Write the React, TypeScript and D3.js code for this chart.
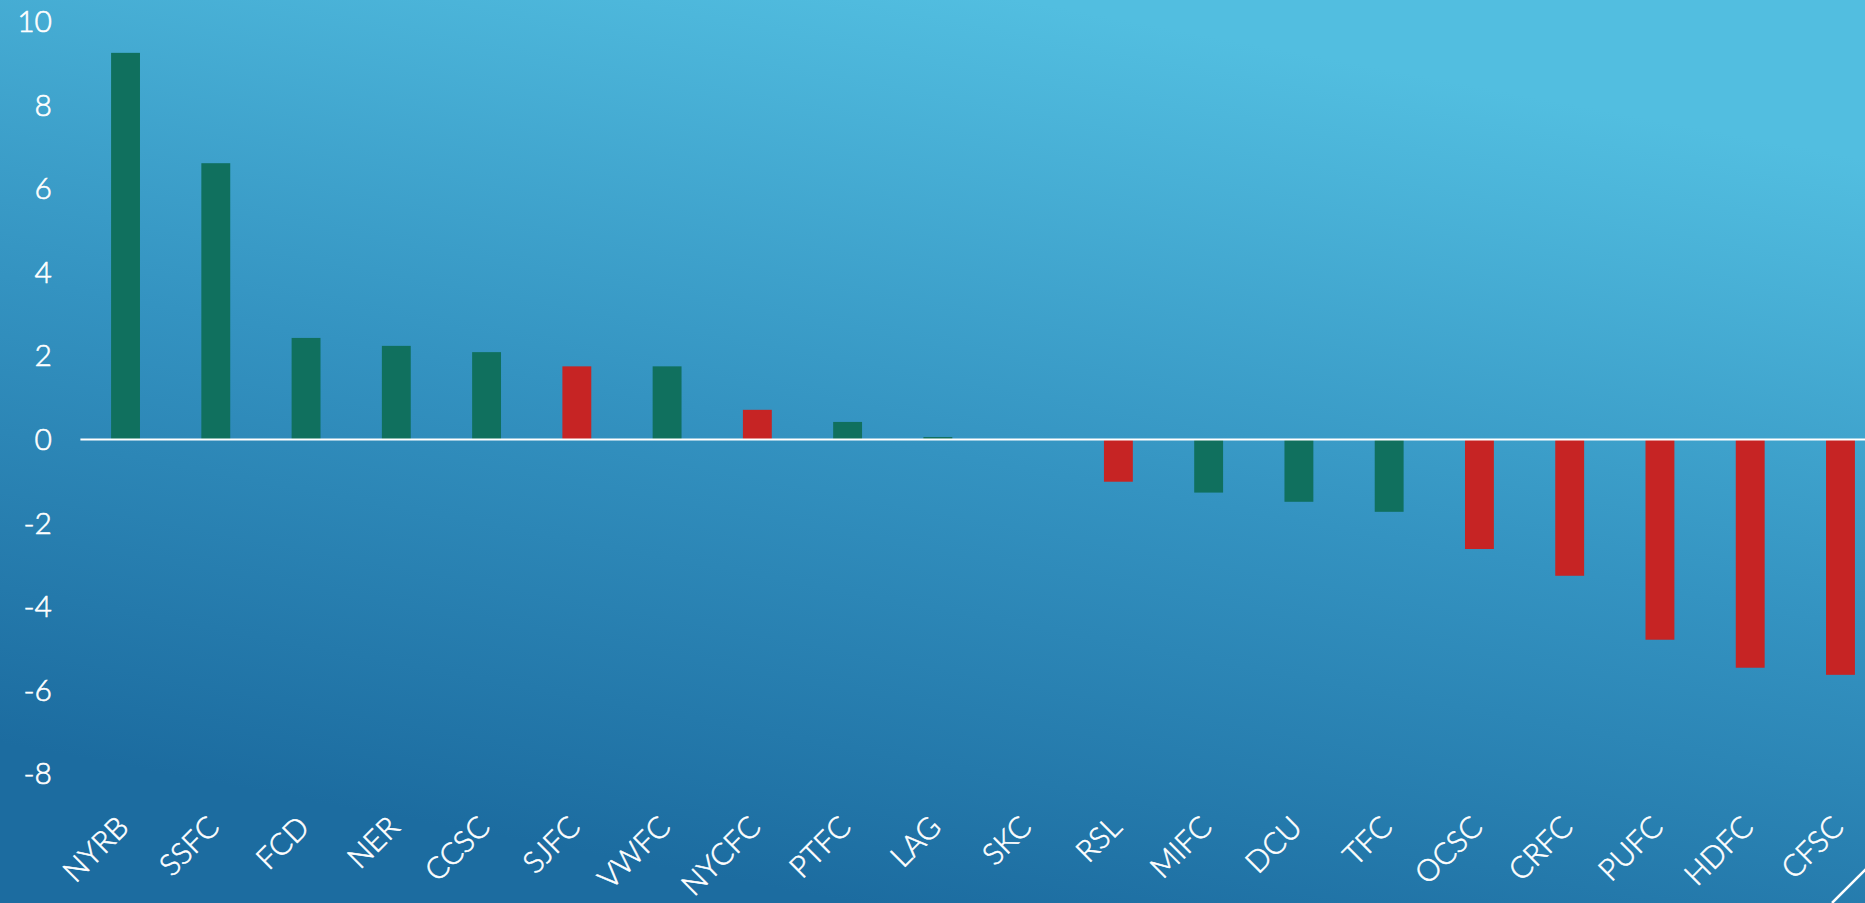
import { useEffect } from 'react';
import * as d3 from 'd3';

const teams = ['NYRB', 'SSFC', 'FCD', 'NER', 'CCSC', 'SJFC', 'VWFC', 'NYCFC', 'PTFC', 'LAG',
  'SKC', 'RSL', 'MIFC', 'DCU', 'TFC', 'OCSC', 'CRFC', 'PUFC', 'HDFC', 'CFSC'];
const values = [9.25, 6.61, 2.43, 2.24, 2.09, 1.75, 1.75, 0.71, 0.42, 0.06,
  0, -1.01, -1.27, -1.49, -1.73, -2.62, -3.26, -4.79, -5.46, -5.63];
// true = red bar
const isRed = [false, false, false, false, false, true, false, true, false, false,
  false, true, false, false, false, true, true, true, true, true];
const yTicks = [-8, -6, -4, -2, 0, 2, 4, 6, 8, 10];

function App() {
  useEffect(() => {
    document.body.style.margin = '0'
  }, [])

  const config = {
    width: 1865,
    height: 903,
    left: 80.4,
    right: 1885.6,
    zeroY: 439.5,
    unit: 41.8
  }

  const xScale = d3.scaleBand()
    .domain(teams)
    .range([config.left, config.right])
    .paddingInner(0.68)
    .paddingOuter(0.34)

  const yScale = d3.scaleLinear()
    .domain([0, 10])
    .range([config.zeroY, config.zeroY - 10 * config.unit])

  const font = 'Lato, "Open Sans", sans-serif'
  const labelY = 829

  return (
    <svg width={config.width} height={config.height} style={{ display: 'block' }}>
      <defs>
        <linearGradient id='bg-grad' gradientUnits='userSpaceOnUse' x1='850' y1='903' x2='1020' y2='0'>
          <stop offset='0' stopColor='#1c6ca0' />
          <stop offset='0.5' stopColor='#3493c1' />
          <stop offset='1' stopColor='#52bee0' />
        </linearGradient>
      </defs>
      <rect x={0} y={0} width={config.width} height={config.height} fill='url(#bg-grad)' />

      <g id='bars'>
        {teams.map((t, i) => {
          const v = values[i]
          const y0 = yScale(0)
          const y1 = yScale(v)
          return (
            <rect key={t}
              x={xScale(t)}
              y={Math.min(y0, y1)}
              width={xScale.bandwidth()}
              height={Math.abs(y1 - y0)}
              fill={isRed[i] ? '#c62424' : '#10705e'} />
          )
        })}
      </g>

      <line x1={config.left} x2={config.width} y1={yScale(0)} y2={yScale(0)}
        stroke='#ffffff' strokeWidth={2} />

      <g id='y-axis' fill='#ffffff' stroke='#ffffff' strokeWidth={0.6}
        fontFamily={font} fontSize={30} fontWeight={300}>
        {yTicks.map(t => (
          <text key={t} x={52} y={yScale(t)} dy='0.35em' textAnchor='end'>{t}</text>
        ))}
      </g>

      <g id='x-axis' fill='#ffffff' stroke='#ffffff' strokeWidth={0.6}
        fontFamily={font} fontSize={30} fontWeight={300}>
        {teams.map(t => {
          const cx = (xScale(t) || 0) + xScale.bandwidth() / 2
          return (
            <text key={t} x={cx + 5} y={labelY} textAnchor='end'
              transform={`rotate(-45, ${cx + 5}, ${labelY})`}>{t}</text>
          )
        })}
      </g>

      <line x1={1832} y1={903} x2={1915} y2={820} stroke='#ffffff' strokeWidth={2.5} />
    </svg>
  )
}

export default App
